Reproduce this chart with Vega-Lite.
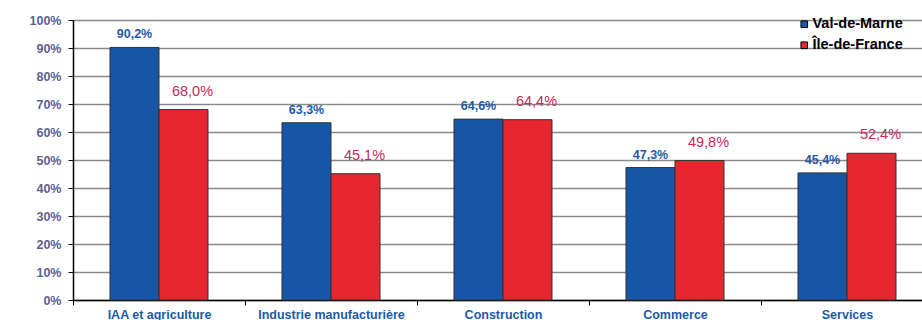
{
  "$schema": "https://vega.github.io/schema/vega-lite/v6.json",
  "autosize": {"type": "none"},
  "padding": {"left": 73, "top": 20, "right": 0, "bottom": 20},
  "width": 849,
  "height": 280,
  "background": "white",
  "config": {
    "locale": {"number": {"decimal": ",", "thousands": " ", "grouping": [3], "currency": ["", " €"]}},
    "view": {"stroke": null},
    "font": "Liberation Sans"
  },
  "data": {
    "values": [
      {"cat": "IAA et agriculture", "series": "Val-de-Marne", "value": 0.902},
      {"cat": "IAA et agriculture", "series": "Île-de-France", "value": 0.680},
      {"cat": "Industrie manufacturière", "series": "Val-de-Marne", "value": 0.633},
      {"cat": "Industrie manufacturière", "series": "Île-de-France", "value": 0.451},
      {"cat": "Construction", "series": "Val-de-Marne", "value": 0.646},
      {"cat": "Construction", "series": "Île-de-France", "value": 0.644},
      {"cat": "Commerce", "series": "Val-de-Marne", "value": 0.473},
      {"cat": "Commerce", "series": "Île-de-France", "value": 0.498},
      {"cat": "Services", "series": "Val-de-Marne", "value": 0.454},
      {"cat": "Services", "series": "Île-de-France", "value": 0.524}
    ]
  },
  "encoding": {
    "x": {
      "field": "cat", "type": "nominal", "sort": null,
      "scale": {"range": [0, 860], "paddingInner": 0, "paddingOuter": 0},
      "axis": {
        "title": null, "labelAngle": 0, "tickBand": "extent", "tickSize": 5,
        "tickColor": "#000", "domainColor": "#000", "domainWidth": 1.5,
        "labelColor": "#1d5aa5", "labelFontWeight": "bold", "labelFontSize": 12.5,
        "labelPadding": 3, "labelFont": "Liberation Sans", "labelBaseline": "top"
      }
    },
    "xOffset": {
      "field": "series", "type": "nominal", "sort": ["Val-de-Marne", "Île-de-France"],
      "scale": {"paddingInner": 0, "paddingOuter": 0.755}
    },
    "y": {
      "field": "value", "type": "quantitative",
      "scale": {"domain": [0, 1], "nice": false},
      "axis": {
        "title": null, "format": ".0%", "values": [0, 0.1, 0.2, 0.3, 0.4, 0.5, 0.6, 0.7, 0.8, 0.9, 1],
        "gridColor": "#8a8a8a", "gridWidth": 1.5, "tickColor": "#000", "tickSize": 5,
        "domainColor": "#000", "domainWidth": 1.5,
        "labelColor": "#5c5f96", "labelFontWeight": "bold", "labelFontSize": 12.5,
        "labelPadding": 7, "labelFont": "Liberation Sans"
      }
    }
  },
  "layer": [
    {
      "mark": {"type": "bar", "stroke": "#333333", "strokeWidth": 1},
      "encoding": {
        "color": {
          "field": "series", "type": "nominal", "sort": ["Val-de-Marne", "Île-de-France"],
          "scale": {"domain": ["Val-de-Marne", "Île-de-France"], "range": ["#1557a5", "#e8262f"]},
          "legend": {
            "title": null, "orient": "none", "legendX": 724, "legendY": -3,
            "symbolType": "square", "symbolSize": 44, "symbolStrokeColor": "#000",
            "symbolStrokeWidth": 1, "symbolOpacity": 1,
            "labelFontSize": 14.5, "labelFontWeight": "bold", "labelFont": "Liberation Sans",
            "labelColor": "#000", "rowPadding": 6, "labelOffset": 1, "padding": 0
          }
        }
      }
    },
    {
      "transform": [{"filter": "datum.series === 'Val-de-Marne'"}],
      "mark": {"type": "text", "baseline": "bottom", "dy": -6, "fontWeight": "bold", "fontSize": 12.5, "color": "#1f5aa6", "font": "Liberation Sans"},
      "encoding": {
        "text": {"field": "value", "type": "quantitative", "format": ".1%"}
      }
    },
    {
      "transform": [{"filter": "datum.series === 'Île-de-France'"}],
      "mark": {"type": "text", "baseline": "bottom", "dy": -11, "dx": 9, "fontSize": 14.5, "color": "#c62a5a", "font": "Liberation Sans"},
      "encoding": {
        "text": {"field": "value", "type": "quantitative", "format": ".1%"}
      }
    }
  ]
}
